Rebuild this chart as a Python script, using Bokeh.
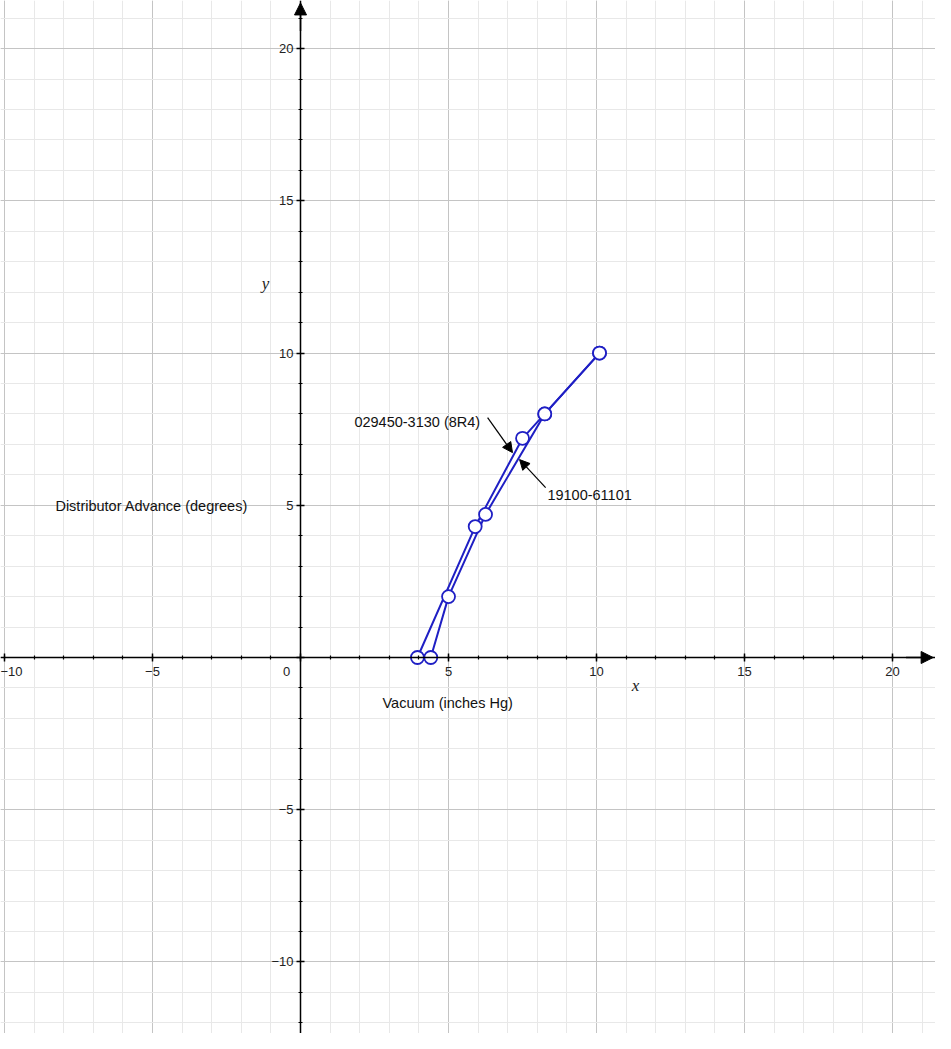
from bokeh.plotting import figure
from bokeh.models import (LinearAxis, Grid, SingleIntervalTicker, Range1d, Label,
                          Arrow, NormalHead, ColumnDataSource)
from bokeh.embed import file_html
from bokeh.resources import INLINE

# ---- data ----
series_a_name = "029450-3130 (8R4)"
series_a_x = [3.95, 5.9, 7.5, 8.25, 10.1]
series_a_y = [0.0, 4.3, 7.2, 8.0, 10.0]

series_b_name = "19100-61101"
series_b_x = [4.4, 5.0, 6.25, 8.25, 10.1]
series_b_y = [0.0, 2.0, 4.7, 8.0, 10.0]

x_title = "Vacuum (inches Hg)"
y_title = "Distributor Advance (degrees)"

W, H = 935, 1033
x0, x1 = -10.135, 21.45
y0, y1 = -12.35, 21.58

p = figure(width=W, height=H, output_backend="svg", toolbar_location=None,
           x_range=Range1d(x0, x1), y_range=Range1d(y0, y1),
           x_axis_location=None, y_axis_location=None, min_border=0,
           outline_line_color=None, background_fill_color="white")

FONT = "Liberation Sans"
BLUE = "#1f1fc4"

# grids
for dim in (0, 1):
    g = Grid(dimension=dim, ticker=SingleIntervalTicker(interval=5, num_minor_ticks=5),
             grid_line_color="#c4c4c4", grid_line_width=1,
             minor_grid_line_color="#e8e8e8", minor_grid_line_width=1)
    p.add_layout(g, "center")

def style_axis(ax):
    ax.ticker = SingleIntervalTicker(interval=5, num_minor_ticks=5)
    ax.fixed_location = 0
    ax.axis_line_color = "black"
    ax.axis_line_width = 1.5
    ax.major_tick_line_color = "black"
    ax.major_tick_line_width = 1.5
    ax.major_tick_in = 4
    ax.major_tick_out = 4
    ax.minor_tick_line_color = "black"
    ax.minor_tick_line_width = 1.2
    ax.minor_tick_in = 2
    ax.minor_tick_out = 2
    ax.major_label_text_font = FONT
    ax.major_label_text_font_size = "13px"
    ax.major_label_text_color = "#222222"
    ax.major_label_overrides = {0: ""}

xa = LinearAxis()
style_axis(xa)
xa.major_label_standoff = 5
p.add_layout(xa, "below")
ya = LinearAxis()
style_axis(ya)
ya.major_label_standoff = 3
p.add_layout(ya, "left")

# axis arrowheads
p.add_layout(Arrow(end=NormalHead(size=12, fill_color="black", line_color="black"),
                   x_start=x1 - 1.0, y_start=0, x_end=x1 - 0.08, y_end=0,
                   line_color="black", line_width=1.5))
p.add_layout(Arrow(end=NormalHead(size=12, fill_color="black", line_color="black"),
                   x_start=0, y_start=y1 - 1.0, x_end=0, y_end=y1 - 0.08,
                   line_color="black", line_width=1.5))

# origin label
p.add_layout(Label(x=-0.47, y=-0.46, text="0", text_font=FONT, text_font_size="13px",
                   text_color="#222222", text_align="center", text_baseline="middle"))

# series
for xs, ys in ((series_a_x, series_a_y), (series_b_x, series_b_y)):
    src = ColumnDataSource(dict(x=xs, y=ys))
    p.line("x", "y", source=src, line_color=BLUE, line_width=2)
for xs, ys in ((series_a_x, series_a_y), (series_b_x, series_b_y)):
    src = ColumnDataSource(dict(x=xs, y=ys))
    p.scatter("x", "y", source=src, size=13, fill_color="white", line_color=BLUE, line_width=1.8)

# annotations
LBL = "14.5px"
p.add_layout(Label(x=1.82, y=7.72, text=series_a_name, text_font=FONT, text_font_size=LBL,
                   text_color="#111111", text_baseline="middle"))
p.add_layout(Arrow(end=NormalHead(size=10, fill_color="black", line_color="black"),
                   x_start=6.32, y_start=7.88, x_end=7.16, y_end=6.73,
                   line_color="black", line_width=1.2))
p.add_layout(Label(x=8.34, y=5.35, text=series_b_name, text_font=FONT, text_font_size=LBL,
                   text_color="#111111", text_baseline="middle"))
p.add_layout(Arrow(end=NormalHead(size=10, fill_color="black", line_color="black"),
                   x_start=8.28, y_start=5.58, x_end=7.40, y_end=6.50,
                   line_color="black", line_width=1.2))

p.add_layout(Label(x=-8.28, y=4.99, text=y_title, text_font=FONT, text_font_size=LBL,
                   text_color="#111111", text_baseline="middle"))
p.add_layout(Label(x=2.77, y=-1.51, text=x_title, text_font=FONT, text_font_size=LBL,
                   text_color="#111111", text_baseline="middle"))

p.add_layout(Label(x=11.32, y=-0.92, text="x", text_font="Liberation Serif", text_font_style="italic",
                   text_font_size="17px", text_color="#222222", text_align="center", text_baseline="middle"))
p.add_layout(Label(x=-1.18, y=12.3, text="y", text_font="Liberation Serif", text_font_style="italic",
                   text_font_size="17px", text_color="#222222", text_align="center", text_baseline="middle"))

open("out.html", "w").write(file_html(p, INLINE))
